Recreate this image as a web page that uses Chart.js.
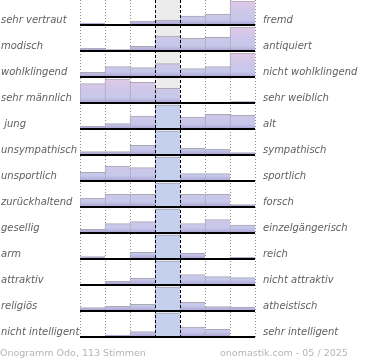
<!DOCTYPE html>
<html><head><meta charset="utf-8">
<script src="https://cdn.jsdelivr.net/npm/chart.js@4.4.1/dist/chart.umd.min.js"></script>
<style>
html,body{margin:0;padding:0;background:#fff;}
#wrap{position:relative;width:370px;height:360px;overflow:hidden;}
canvas{position:absolute;left:0;top:0;}
.foot{position:absolute;top:347px;font:9.5px "DejaVu Sans",sans-serif;color:#b5b5b5;white-space:nowrap;line-height:12px;}
</style></head><body>
<div id="wrap"><canvas id="c" width="370" height="360"></canvas>
<div class="foot" style="left:0">Onogramm Odo, 113 Stimmen</div>
<div class="foot" style="left:220px">onomastik.com - 05 / 2025</div></div>
<script>
// ---- data ----
const leftLabels = ['sehr vertraut','modisch','wohlklingend','sehr männlich',' jung','unsympathisch','unsportlich','zurückhaltend','gesellig','arm','attraktiv','religiös','nicht intelligent'];
const rightLabels = ['fremd','antiquiert','nicht wohlklingend','sehr weiblich','alt','sympathisch','sportlich','forsch','einzelgängerisch','reich','nicht attraktiv','atheistisch','sehr intelligent'];
const steps = ['-3','-2','-1','0','1','2','3'];
const vertraut     = [2, 0, 4, 5, 9, 11, 24];
const modisch      = [2.7, 1.3, 4.7, 15, 12.7, 13.7, 24];
const wohlklingend = [4.7, 10.3, 9.3, 13.3, 8.3, 10.3, 24];
const maennlich    = [19.3, 24, 20.7, 14.7, 1, 0, 1.3];
const jung         = [3, 5.3, 13, 24, 12, 14.7, 13.7];
const unsympathisch= [3.3, 3.3, 9.7, 24, 6.7, 6, 2.3];
const unsportlich  = [8.7, 15, 13.3, 24, 7.3, 7.3, 0];
const zurueckhaltend=[9, 12.7, 12.7, 24, 12.7, 12.7, 2.3];
const gesellig     = [3.7, 9.3, 11.3, 24, 9.5, 13.5, 8];
const arm          = [2.3, 0.3, 6.7, 24, 5.7, 0, 1.7];
const attraktiv    = [0, 3.7, 6.7, 24, 10.5, 8.3, 7.3];
const religioes    = [3.3, 4.7, 6.7, 24, 8.7, 4.3, 4];
const intelligent  = [0.3, 2, 5.3, 24, 10, 7.7, 0];
const rows = [vertraut, modisch, wohlklingend, maennlich, jung, unsympathisch, unsportlich, zurueckhaltend, gesellig, arm, attraktiv, religioes, intelligent];
const FULL = 24;

// ---- chart ----
Chart.defaults.font.family = '"DejaVu Sans", sans-serif';
const CENTER = 3;

function barColor(c) {
  const chart = c.chart;
  const ys = chart.scales['r' + c.datasetIndex];
  const v = c.raw;
  if (c.dataIndex === CENTER && v >= FULL) return '#c5cfee';
  if (!ys || ys.top === undefined || isNaN(ys.top)) return '#c8c9ea';
  const y0 = ys.getPixelForValue(FULL), y1 = ys.getPixelForValue(0);
  const g = chart.ctx.createLinearGradient(0, y0, 0, y1);
  g.addColorStop(0, '#e3c8e7');
  g.addColorStop(0.4, '#cfc7e9');
  g.addColorStop(0.78, '#c5c8ea');
  g.addColorStop(0.92, '#b7b1dc');
  g.addColorStop(1, '#a294cb');
  return g;
}

function fixSide(w) {
  return s => { s.width = w; s.paddingTop = 0; s.paddingBottom = 0; };
}

const scales = {
  x: {
    type: 'category', position: 'bottom', offset: true,
    ticks: {display: false},
    grid: {offset: true, drawTicks: false, z: 0, lineWidth: 1,
      color: c => (c.index === 3 || c.index === 4) ? 'rgba(0,0,0,0)' : '#8c8c8c',
      borderDash: [1, 2]},
    border: {display: false, dash: [1, 2]}
  },
  x2: {
    type: 'category', position: 'bottom', offset: true,
    ticks: {display: false},
    grid: {offset: true, drawTicks: false, z: 2, lineWidth: 1,
      color: c => (c.index === 3 || c.index === 4) ? '#000' : 'rgba(0,0,0,0)',
      borderDash: [3, 2]},
    border: {display: false, dash: [3, 2]}
  },
  labL: {
    type: 'category', position: 'left', labels: leftLabels, offset: true, weight: 100,
    grid: {display: false, drawTicks: false}, border: {display: false},
    ticks: {crossAlign: 'far', labelOffset: 7, padding: 2, autoSkip: false,
      color: '#606060', font: {size: 10, style: 'italic'}},
    afterFit: fixSide(79)
  },
  labR: {
    type: 'category', position: 'right', labels: rightLabels, offset: true, weight: 100,
    grid: {display: false, drawTicks: false}, border: {display: false},
    ticks: {crossAlign: 'near', labelOffset: 7, padding: 8, autoSkip: false,
      color: '#606060', font: {size: 10, style: 'italic'}},
    afterFit: fixSide(115)
  }
};
rows.forEach((r, i) => {
  scales['r' + i] = {
    type: 'linear', position: 'left', stack: 'rows', stackWeight: 1, weight: 50 - i,
    min: -1, max: 25,
    afterBuildTicks: s => { s.ticks = [{value: 0}]; },
    afterFit: s => { s.paddingTop = 0; s.paddingBottom = 0; },
    ticks: {display: false},
    grid: {drawTicks: false, color: '#000', lineWidth: 2, z: 1},
    border: {display: false}
  };
});

const datasets = rows.map((r, i) => ({
  data: r, xAxisID: 'x', yAxisID: 'r' + i, grouped: false,
  barPercentage: 1, categoryPercentage: 1,
  backgroundColor: barColor,
  borderColor: '#a9a9b4',
  borderWidth: {top: 1, left: 1, right: 0, bottom: 0},
  borderSkipped: 'start'
}));

const bgPlugin = {
  id: 'centerBg',
  beforeDraw(chart) {
    const xs = chart.scales.x, a = chart.chartArea, ctx = chart.ctx;
    const w = xs.width / steps.length;
    const cx = xs.getPixelForValue(CENTER);
    ctx.save();
    ctx.fillStyle = '#ececec';
    ctx.fillRect(cx - w / 2, a.top, w, a.bottom - a.top);
    ctx.restore();
  }
};

new Chart(document.getElementById('c'), {
  type: 'bar',
  data: {labels: steps, datasets},
  options: {
    responsive: false, animation: false,
    layout: {padding: {left: 1, right: 0, top: 0, bottom: 22}},
    plugins: {legend: {display: false}, tooltip: {enabled: false}},
    scales
  },
  plugins: [bgPlugin]
});
</script>
</body></html>
